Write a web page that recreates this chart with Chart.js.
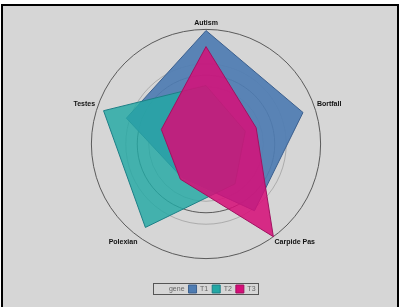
<!DOCTYPE html>
<html>
<head>
<meta charset="utf-8">
<script src="https://cdn.jsdelivr.net/npm/chart.js@4.4.1/dist/chart.umd.min.js"></script>
<style>
  html, body { margin: 0; padding: 0; background: #ffffff; }
  #frame {
    position: absolute; left: 1px; top: 4px;
    width: 394px; height: 303px;
    border-top: 2px solid #000; border-left: 2px solid #000; border-right: 2px solid #000;
    background: #d6d6d6;
  }
</style>
</head>
<body>
<div id="frame"><canvas id="chart" width="394" height="301"></canvas></div>
<script>
let axes = ["Autism", "Bortfall", "Carpide Pas", "Polexian", "Testes"];
let T1 = [0.99, 0.89, 0.72, 0.36, 0.73];
let T2 = [0.51, 0.36, 0.43, 0.90, 0.94];
let T3 = [0.85, 0.46, 1.00, 0.38, 0.41];
let legendTitle = "gene";
let fills = ["#4e7cb2", "#22a8a4", "#d60e78"];
let edges = ["#3b5f8e", "#1d7f86", "#a01160"];

// draws the thin frame round the legend row
let legendFrame = {
    id: "legendFrame",
    afterDraw: function(chart)
    {
        let boxes = chart.legend.legendHitBoxes;
        if(!boxes || !boxes.length) return;
        let l = Infinity, r = -Infinity, t = Infinity, b = -Infinity;
        for(let i = 0; i < boxes.length; i++)
        {
            l = Math.min(l, boxes[i].left);
            r = Math.max(r, boxes[i].left + boxes[i].width);
            t = Math.min(t, boxes[i].top);
            b = Math.max(b, boxes[i].top + boxes[i].height);
        }
        let ctx = chart.ctx;
        ctx.save();
        ctx.strokeStyle = "#555";
        ctx.lineWidth = 1;
        ctx.strokeRect(Math.round(l - 4) + 0.5, Math.round(t - 2) + 0.5, Math.round(r - l + 7), Math.round(b - t + 3));
        ctx.restore();
    }
};

let myChart = document.getElementById("chart").getContext("2d");
let display = new Chart(myChart,
{
    type: "radar",
    data:
    {
        labels: axes,
        datasets: [
            { label: "T1", data: T1, backgroundColor: "rgba(78,124,178,0.92)", borderColor: edges[0], borderWidth: 1, pointRadius: 0, order: 3 },
            { label: "T2", data: T2, backgroundColor: "rgba(34,168,164,0.82)", borderColor: edges[1], borderWidth: 1, pointRadius: 0, order: 2 },
            { label: "T3", data: T3, backgroundColor: "rgba(214,14,120,0.86)", borderColor: edges[2], borderWidth: 1, pointRadius: 0, order: 1 }
        ]
    },
    options:
    {
        responsive: false,
        maintainAspectRatio: false,
        animation: false,
        layout: { padding: { left: 13, top: 8, right: 0, bottom: 4 } },
        scales:
        {
            r:
            {
                min: 0,
                max: 1,
                ticks: { display: false, stepSize: 0.1 },
                angleLines: { display: false },
                grid:
                {
                    circular: true,
                    lineWidth: 1,
                    color: function(c)
                    {
                        let v = Math.round(c.tick.value * 10);
                        if(v == 10) return "#5a5a5a";
                        if(v == 6) return "rgba(50,50,50,0.75)";
                        if(v == 5 || v == 7) return "rgba(0,0,0,0.2)";
                        return "rgba(0,0,0,0)";
                    }
                },
                pointLabels:
                {
                    padding: 2,
                    color: "#111",
                    font: { family: "Liberation Sans", size: 7, weight: "bold" }
                }
            }
        },
        plugins:
        {
            tooltip: { enabled: false },
            legend:
            {
                position: "bottom",
                title: { display: true, text: " ", font: { size: 1 }, padding: { top: 15, bottom: 0 } },
                labels:
                {
                    boxWidth: 8,
                    boxHeight: 8,
                    padding: 4,
                    color: "#111",
                    font: { family: "Liberation Sans", size: 7 },
                    generateLabels: function(chart)
                    {
                        let items = [{ text: legendTitle, fillStyle: "rgba(0,0,0,0)", strokeStyle: "rgba(0,0,0,0)", lineWidth: 0, hidden: false, datasetIndex: -1 }];
                        chart.data.datasets.forEach(function(ds, i)
                        {
                            items.push({ text: ds.label, fillStyle: fills[i], strokeStyle: edges[i], lineWidth: 1, hidden: false, datasetIndex: i });
                        });
                        return items;
                    }
                }
            }
        }
    },
    plugins: [legendFrame]
});
</script>
</body>
</html>
